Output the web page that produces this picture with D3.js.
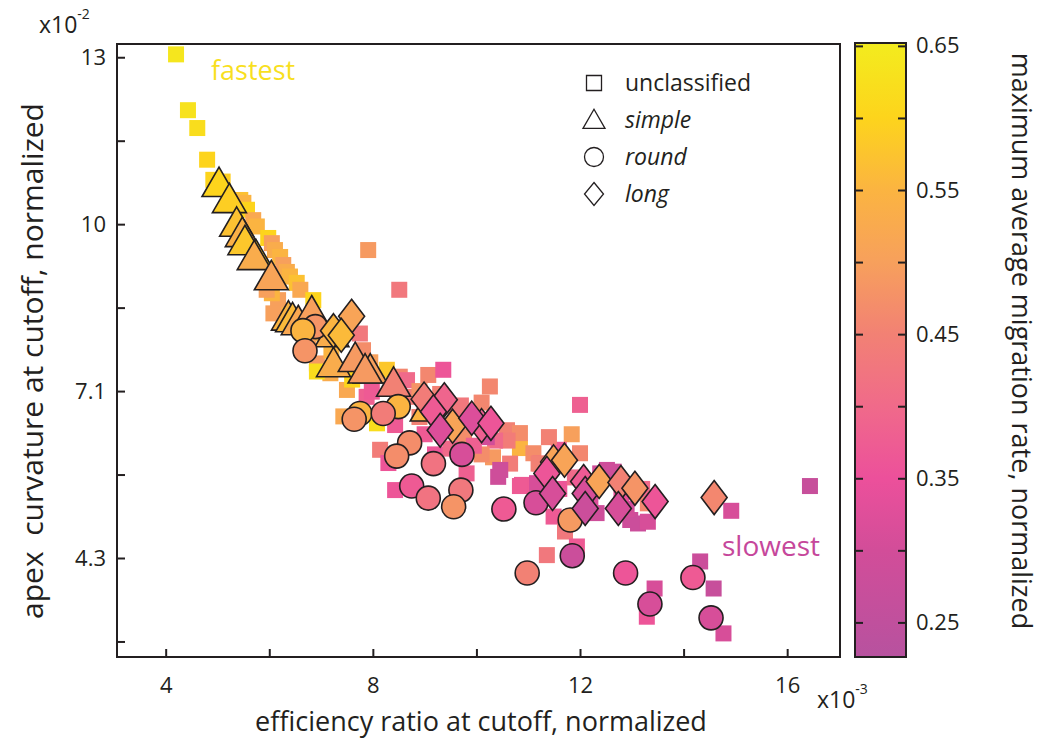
<!DOCTYPE html>
<html>
<head>
<meta charset="utf-8">
<script src="https://cdn.jsdelivr.net/npm/d3@7"></script>
<style>
body { margin: 0; background: #fff; }
text { font-family: "Open Sans", sans-serif; fill: #231f20; }
</style>
</head>
<body>
<script>
// data: [efficiency ratio (x1e-3), apex curvature (x1e-2), max migration rate]
var unclassified = [
  [4.20,13.05,0.64],[4.43,12.08,0.63],[4.61,11.77,0.62],[4.80,11.22,0.60],[4.92,10.87,0.60],
  [5.10,10.84,0.59],[5.44,10.52,0.57],[5.50,10.47,0.55],[5.57,10.35,0.60],[5.69,10.17,0.52],
  [5.76,10.06,0.55],[5.98,9.86,0.60],[6.05,9.77,0.50],[6.11,9.65,0.53],[6.21,9.53,0.55],
  [6.27,9.39,0.50],[6.34,9.27,0.53],[6.40,9.19,0.55],[6.53,9.08,0.57],[6.60,8.96,0.52],
  [6.17,8.78,0.50],[6.05,8.90,0.55],[5.95,8.96,0.50],[7.91,9.65,0.49],[8.51,8.96,0.43],
  [6.37,8.52,0.55],[6.08,8.55,0.50],[6.85,8.78,0.60],[6.92,7.68,0.49],[7.18,7.51,0.53],
  [6.92,7.54,0.62],[7.75,8.20,0.43],[7.81,7.91,0.47],[7.50,7.22,0.52],[7.88,7.10,0.38],
  [8.27,7.57,0.58],[8.52,7.45,0.46],[8.66,7.39,0.40],[9.07,7.48,0.46],[9.36,7.57,0.36],
  [7.43,6.76,0.52],[8.08,6.64,0.62],[8.43,6.61,0.37],[8.14,6.18,0.44],[10.26,7.28,0.46],
  [12.00,6.96,0.38],[11.84,6.45,0.50],[12.00,6.12,0.46],[10.84,6.21,0.55],[7.98,7.19,0.37],
  [8.43,5.48,0.36],[9.81,5.77,0.38],[10.42,5.71,0.29],[10.65,5.94,0.44],[9.76,6.41,0.47],
  [10.59,6.52,0.45],[10.84,6.47,0.47],[11.10,6.12,0.47],[11.23,5.94,0.40],[10.88,5.57,0.37],
  [12.39,5.77,0.30],[12.97,4.96,0.29],[13.31,5.25,0.46],[10.60,6.34,0.44],[10.36,6.34,0.40],
  [10.32,6.05,0.49],[10.10,6.10,0.47],[10.46,5.83,0.29],[10.84,5.55,0.37],[11.17,5.60,0.31],
  [11.20,5.94,0.45],[11.59,6.18,0.37],[12.52,5.83,0.29],[11.36,4.35,0.43],[14.32,4.24,0.28],
  [14.58,3.77,0.27],[13.44,3.77,0.31],[13.29,3.28,0.36],[14.77,2.99,0.31],[14.92,5.12,0.31],
  [16.44,5.55,0.27],[13.12,4.90,0.28],[13.31,4.93,0.31],[12.32,5.08,0.29],[12.65,5.80,0.29],
  [11.49,5.02,0.37],[11.71,4.76,0.43],[11.94,4.50,0.37],[8.30,5.95,0.36],[9.20,6.10,0.36],
  [9.50,6.20,0.40],[9.00,6.45,0.37],[8.90,6.75,0.45],[9.60,6.80,0.42],[10.00,6.70,0.45],
  [10.20,6.40,0.30],[9.95,6.25,0.38],[11.40,6.40,0.45],[11.60,5.50,0.36],[12.20,5.30,0.32],
  [12.80,5.40,0.35],[13.20,5.50,0.40],[12.90,5.15,0.30],[11.90,5.70,0.40],[7.20,7.90,0.55],
  [7.60,7.40,0.60],[7.95,7.70,0.50],[6.75,8.05,0.50],[7.05,8.20,0.54],[8.70,7.10,0.44],
  [8.90,7.20,0.48],[9.30,7.15,0.45],[9.70,6.95,0.43],[10.10,7.00,0.46]
];
var simple = [
  [5.03,10.75,0.60],[5.23,10.47,0.59],[5.37,10.06,0.57],[5.48,9.88,0.54],[5.53,9.74,0.58],
  [5.74,9.50,0.60],[5.71,9.48,0.53],[6.04,9.13,0.51],[6.37,8.43,0.55],[6.45,8.40,0.56],
  [6.56,8.35,0.52],[6.82,8.52,0.50],[7.21,8.14,0.53],[7.24,7.62,0.53],[7.66,7.71,0.49],
  [7.95,7.51,0.50],[7.85,7.51,0.49],[8.40,7.28,0.45],[9.05,6.85,0.55]
];
var round = [
  [6.89,8.32,0.48],[6.65,8.25,0.55],[6.69,7.90,0.48],[7.75,6.81,0.55],[7.64,6.71,0.48],
  [8.49,6.93,0.55],[8.20,6.81,0.44],[8.71,6.30,0.47],[8.46,6.07,0.47],[9.17,5.94,0.42],
  [9.72,6.10,0.31],[8.75,5.55,0.37],[9.07,5.34,0.42],[9.70,5.48,0.43],[9.56,5.19,0.48],
  [10.53,5.15,0.37],[11.15,5.26,0.31],[11.81,4.96,0.49],[11.85,4.34,0.28],[10.98,4.04,0.45],
  [12.88,4.04,0.36],[13.35,3.50,0.31],[14.18,3.96,0.37],[14.53,3.26,0.31]
];
var long = [
  [7.24,8.25,0.55],[7.59,8.50,0.51],[7.39,8.17,0.56],[8.99,7.06,0.44],[9.38,7.05,0.39],
  [9.17,6.84,0.37],[10.10,6.60,0.38],[9.54,6.59,0.51],[9.30,6.52,0.32],[9.91,6.73,0.32],
  [10.28,6.64,0.36],[11.49,5.97,0.51],[11.70,6.00,0.51],[11.36,5.77,0.36],[11.47,5.42,0.31],
  [12.07,5.63,0.37],[12.10,5.42,0.31],[12.10,5.16,0.28],[12.37,5.63,0.51],[12.79,5.61,0.45],
  [13.06,5.51,0.48],[12.74,5.16,0.31],[13.45,5.28,0.36],[14.59,5.35,0.46]
];

var xTicks = [4, 8, 12, 16];
var xMinorTicks = [6, 10, 14];
var yTicks = [4.3, 7.2, 10.1, 13];
var yTickLabels = ["4.3", "7.1", "10", "13"];
var yMinorTicks = [2.85, 5.75, 8.65, 11.55];
var cbTicks = [0.25, 0.35, 0.45, 0.55, 0.65];
var cbMinorTicks = [0.30, 0.40, 0.50, 0.60];
var colorStops = [0.226, 0.25, 0.30, 0.35, 0.40, 0.45, 0.50, 0.55, 0.60, 0.652];
var colorHex = ["#b7529f", "#c0509d", "#d24d99", "#ec509b", "#f06a8a", "#f28174", "#f7a05c", "#fbb441", "#fdd41c", "#f3ec1e"];
var legendLabels = ["unclassified", "simple", "round", "long"];

var ink = "#231f20";
var svg = d3.select("body").append("svg").attr("width", 1042).attr("height", 745);

var x = d3.scaleLinear().domain([3.06, 17.02]).range([117, 840]);
var y = d3.scaleLinear().domain([2.58, 13.23]).range([657, 44]);
var color = d3.scaleLinear().domain(colorStops).range(colorHex).interpolate(d3.interpolateRgb);
var cb = d3.scaleLinear().domain([0.226, 0.652]).range([657, 43]);

// points: squares under, then triangles, circles, diamonds on top
var pts = svg.append("g");
pts.selectAll("rect.sq").data(unclassified).enter().append("rect")
  .attr("class", "sq")
  .attr("x", function (d) { return x(d[0]) - 8; })
  .attr("y", function (d) { return y(d[1]) - 8; })
  .attr("width", 16).attr("height", 16)
  .style("fill", function (d) { return color(d[2]); });

var tri = d3.symbol(d3.symbolTriangle, 500);
pts.selectAll("path.tri").data(simple).enter().append("path")
  .attr("d", tri)
  .attr("transform", function (d) { return "translate(" + x(d[0]) + "," + y(d[1]) + ")"; })
  .style("fill", function (d) { return color(d[2]); })
  .style("stroke", ink).style("stroke-width", 1.6);

pts.selectAll("circle").data(round).enter().append("circle")
  .attr("cx", function (d) { return x(d[0]); })
  .attr("cy", function (d) { return y(d[1]); })
  .attr("r", 12)
  .style("fill", function (d) { return color(d[2]); })
  .style("stroke", ink).style("stroke-width", 1.6);

function diamond(w, h) {
  return "M0," + (-h / 2) + "L" + (w / 2) + ",0L0," + (h / 2) + "L" + (-w / 2) + ",0Z";
}
pts.selectAll("path.dia").data(long).enter().append("path")
  .attr("d", diamond(26, 34))
  .attr("transform", function (d) { return "translate(" + x(d[0]) + "," + y(d[1]) + ")"; })
  .style("fill", function (d) { return color(d[2]); })
  .style("stroke", ink).style("stroke-width", 1.6);

// axes, ticks pointing inward
var xAxis = svg.append("g").attr("transform", "translate(0,657)")
  .call(d3.axisBottom(x).tickValues(xTicks.concat(xMinorTicks)).tickSize(-8).tickPadding(20)
    .tickFormat(function (d) { return xTicks.indexOf(d) >= 0 ? d : ""; }));
var yAxis = svg.append("g").attr("transform", "translate(117,0)")
  .call(d3.axisLeft(y).tickValues(yTicks.concat(yMinorTicks)).tickSize(-8).tickPadding(11)
    .tickFormat(function (d) { var i = yTicks.indexOf(d); return i >= 0 ? yTickLabels[i] : ""; }));
[xAxis, yAxis].forEach(function (g) {
  g.select(".domain").remove();
  g.selectAll(".tick line").style("stroke", ink).style("stroke-width", 2);
  g.selectAll(".tick text").style("font-size", "22px").style("font-family", "Open Sans").style("fill", ink);
});

svg.append("rect").attr("x", 117).attr("y", 44).attr("width", 723).attr("height", 613)
  .style("fill", "none").style("stroke", ink).style("stroke-width", 2);

// exponents
var e2 = svg.append("text").attr("x", 39).attr("y", 33).style("font-size", "23px");
e2.append("tspan").text("x10");
e2.append("tspan").attr("dy", -14).style("font-size", "14px").text("-2");
var e3 = svg.append("text").attr("x", 817).attr("y", 708).style("font-size", "23px");
e3.append("tspan").text("x10");
e3.append("tspan").attr("dy", -14).style("font-size", "14px").text("-3");

// axis titles
svg.append("text").attr("x", 481).attr("y", 731).attr("text-anchor", "middle")
  .style("font-size", "27px").text("efficiency ratio at cutoff, normalized");
svg.append("text").attr("transform", "translate(43,361) rotate(-90)").attr("text-anchor", "middle")
  .style("font-size", "30px").style("white-space", "pre").text("apex  curvature at cutoff, normalized");

// annotations
svg.append("text").attr("x", 211).attr("y", 80).style("font-size", "27px").style("fill", "#f8df1f").text("fastest");
svg.append("text").attr("x", 722).attr("y", 556).style("font-size", "28px").style("fill", "#c6479b").text("slowest");

// legend
var lg = svg.append("g").attr("transform", "translate(594,0)");
var legendShapes = [
  "M-7.5,-7.5H7.5V7.5H-7.5Z",
  d3.symbol(d3.symbolTriangle, 210)(),
  d3.symbol(d3.symbolCircle, Math.PI * 9.5 * 9.5)(),
  diamond(19, 23)
];
legendLabels.forEach(function (lab, i) {
  var cy = 83 + i * 37;
  lg.append("path").attr("d", legendShapes[i]).attr("transform", "translate(0," + (cy + (i === 1 ? 2 : 0)) + ")")
    .style("fill", "none").style("stroke", ink).style("stroke-width", 1.3);
  lg.append("text").attr("x", 31).attr("y", cy + 8).style("font-size", "23px")
    .style("font-style", i === 0 ? "normal" : "italic").text(lab);
});

// colorbar
var defs = svg.append("defs");
var grad = defs.append("linearGradient").attr("id", "cbgrad")
  .attr("x1", 0).attr("y1", 1).attr("x2", 0).attr("y2", 0);
colorStops.forEach(function (s, i) {
  grad.append("stop").attr("offset", (s - 0.226) / (0.652 - 0.226)).attr("stop-color", colorHex[i]);
});
svg.append("rect").attr("x", 855).attr("y", 43).attr("width", 51).attr("height", 614)
  .style("fill", "url(#cbgrad)").style("stroke", ink).style("stroke-width", 2);

var cbR = svg.append("g").attr("transform", "translate(906,0)")
  .call(d3.axisRight(cb).tickValues(cbTicks.concat(cbMinorTicks)).tickSize(-8).tickPadding(10)
    .tickFormat(function (d) { return cbTicks.indexOf(d) >= 0 ? d3.format(".2f")(d) : ""; }));
var cbL = svg.append("g").attr("transform", "translate(855,0)")
  .call(d3.axisLeft(cb).tickValues(cbTicks.concat(cbMinorTicks)).tickSize(-8).tickFormat(""));
[cbR, cbL].forEach(function (g) {
  g.select(".domain").remove();
  g.selectAll(".tick line").style("stroke", ink).style("stroke-width", 2);
  g.selectAll(".tick text").style("font-size", "22px").style("font-family", "Open Sans").style("fill", ink);
});

svg.append("text").attr("transform", "translate(1012,341) rotate(90)").attr("text-anchor", "middle")
  .style("font-size", "27px").text("maximum average migration rate, normalized");
</script>
</body>
</html>
